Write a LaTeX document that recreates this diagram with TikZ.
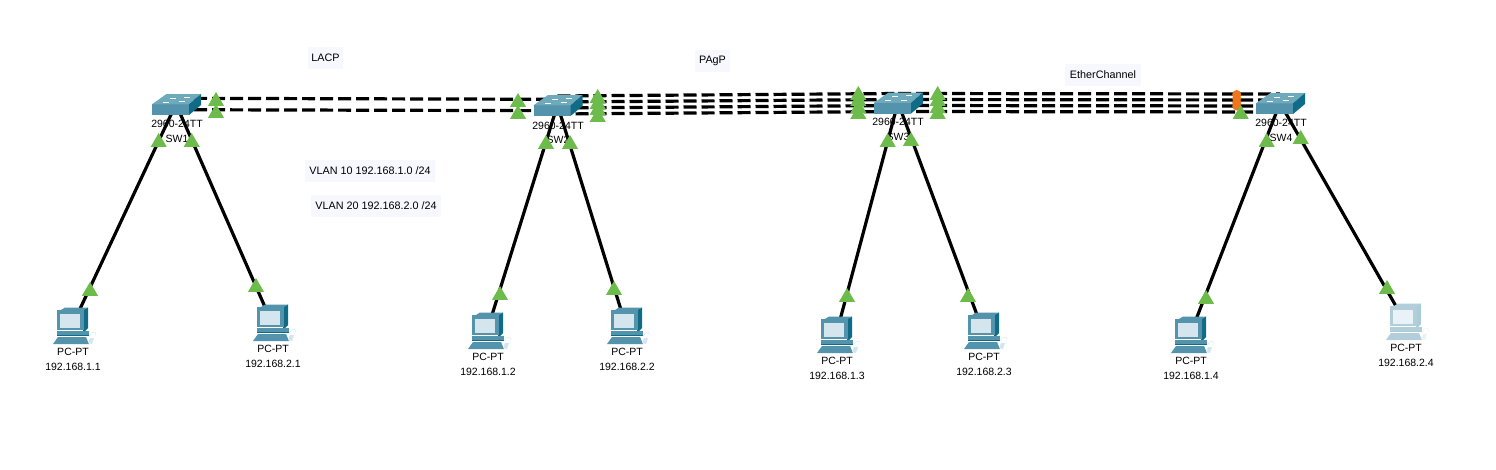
\documentclass[tikz,border=0pt]{standalone}
\usepackage{fontspec}
\setmainfont{Liberation Sans}
\usetikzlibrary{shapes.geometric}
\definecolor{swtop}{HTML}{6FA9BC}
\definecolor{swfront}{HTML}{5393AC}
\definecolor{swside}{HTML}{0F6B86}
\definecolor{ltgreen}{HTML}{6DBB4A}
\definecolor{ltorange}{HTML}{F0761B}
\definecolor{notebg}{HTML}{F6F8FD}
\definecolor{pcscreen}{HTML}{D5E5ED}
\definecolor{pcfade}{HTML}{E9F2F6}
\newcommand{\swicon}[1]{%
\begin{scope}[shift={(#1)}]
\fill[swfront] (-24,0.3) rectangle (13,11);
\fill[swtop] (-24,0.3)--(-9.5,-10)--(25,-10)--(13,0.3)--cycle;
\fill[swside] (13,0.3)--(25,-10)--(25,1)--(13,11)--cycle;
\draw[white,line width=0.8pt] (-6,-6)--(0,-6) (8,-7)--(14,-7) (-13,-2)--(-7,-2) (3,-2.5)--(9,-2.5);
\end{scope}}
\newcommand{\pcicon}[4]{%
\begin{scope}[shift={(#1)}]
\fill[#3] (11,-16)--(16,-18.5)--(16,2)--(11,7)--cycle;
\fill[#2] (-11,-16)--(-7,-18.5)--(16,-18.5)--(11,-16)--cycle;
\fill[#2] (-15.5,-16) rectangle (11.5,4);
\fill[#4] (-12,-12) rectangle (8,2);
\fill[#2] (-15,4.5) rectangle (17,9);
\fill[#3] (-15,9)--(17,9)--(17,10)--(-15,10)--cycle;
\fill[#2] (-14,11)--(14,11)--(17,18)--(-19,18)--cycle;
\fill[#4] (16,17)--(18,12)--(22,12)--(20,18)--cycle;
\draw[#4] (17,10) .. controls (20,5) and (24,5) .. (24,9);
\end{scope}}
\begin{document}
\begin{tikzpicture}[x=1pt,y=-1pt,
  txt/.style={font=\fontsize{10.5}{14.4}\selectfont,align=center,inner sep=0pt},
  note/.style={font=\fontsize{10.8}{13}\selectfont,inner sep=0pt,fill=notebg,minimum height=21.7pt},
  devbox/.style={inner sep=0pt,minimum size=2pt},
  etherlink/.style={line width=3.2pt,black,dash pattern=on 13pt off 5pt},
  pclink/.style={line width=3.2pt,black},
  lightg/.style={regular polygon,regular polygon sides=3,fill=ltgreen,inner sep=0pt,outer sep=0pt,minimum size=18.5pt}]
\useasboundingbox (0,0) rectangle (1496,469);
% notes
\node[note,minimum width=35pt] (lacp) at (325.5,58) {LACP};
\node[note,minimum width=35pt] (pagp) at (712.5,61) {PAgP};
\node[note,minimum width=76pt] (ether) at (1103,75) {EtherChannel};
\node[note,minimum width=130pt] (vlan10) at (370,171) {VLAN 10 192.168.1.0 /24};
\node[note,minimum width=130pt] (vlan20) at (376,206) {VLAN 20 192.168.2.0 /24};
% switches
\foreach \sw/\x/\y/\lx/\ly in {SW1/176/104/177/124.5,SW2/557.5/105/558/126,SW3/898/102.5/898/122.5,SW4/1280/103/1281/123.5}{
  \node[devbox] (\sw) at (\x,\y) {};
  \node[txt] (\sw lab) at (\lx,\ly+7) {2960-24TT\\\sw};
}
% pcs
\foreach \pc/\x/\y/\ip in {PCa1/72/326/192.168.1.1,PCb1/272/323/192.168.2.1,PCa2/487/331/192.168.1.2,PCb2/626/326/192.168.2.2,PCa3/836/335/192.168.1.3,PCb3/983/331/192.168.2.3,PCa4/1190/335/192.168.1.4,PCb4/1405/322/192.168.2.4}{
  \node[devbox] (\pc) at (\x,\y) {};
  \node[txt] (\pc lab) at (\x+1,\y+33.5) {PC-PT\\\ip};
}
% links
\foreach \s in {-5.7,5.7} \draw[etherlink] ([yshift=\s pt]SW1.center)--([yshift=\s pt]SW2.center);
\foreach \s in {-9,-3,3,9}{
  \draw[etherlink] ([yshift=\s pt]SW2.center)--([yshift=\s pt]SW3.center);
  \draw[etherlink] ([yshift=\s pt]SW3.center)--([yshift=\s pt]SW4.center);
}
\foreach \sw/\a/\b in {SW1/PCa1/PCb1,SW2/PCa2/PCb2,SW3/PCa3/PCb3,SW4/PCa4/PCb4}{
  \draw[pclink] (\sw.center)--(\a.center);
  \draw[pclink] (\sw.center)--(\b.center);
}
% icons
\foreach \sw in {SW1,SW2,SW3,SW4} \swicon{\sw};
\foreach \pc in {PCa1,PCb1,PCa2,PCb2,PCa3,PCb3,PCa4}
  \pcicon{\pc}{swfront}{swside}{pcscreen};
\pcicon{PCb4}{swfront!45!white}{swside!35!white}{pcfade};
% link lights
\foreach \y [count=\i] in {94.5,98.5,102.5,106}
  \node[circle,fill=ltorange,inner sep=0pt,minimum size=9pt] (or\i) at (1236.7,\y) {};
\foreach \x/\y [count=\i] in {216/92,216/104,518/93,518/105,
  597.7/89,597.7/95,597.7/101,597.7/108,
  858.3/86,858.3/92,858.3/99,858.3/105,
  937.7/86,937.7/92,937.7/99,937.7/105,1240.7/105,
  158.7/133,191.7/133,546/135,570/135,887.7/133,911/132,1266.7/133,1300.7/130,
  90/282,256/278,500/286,614/281,847/288,968/288,1206/290,1387/280}
  \node[lightg] (lt\i) at (\x,\y+9.2) {};
\end{tikzpicture}
\end{document}
